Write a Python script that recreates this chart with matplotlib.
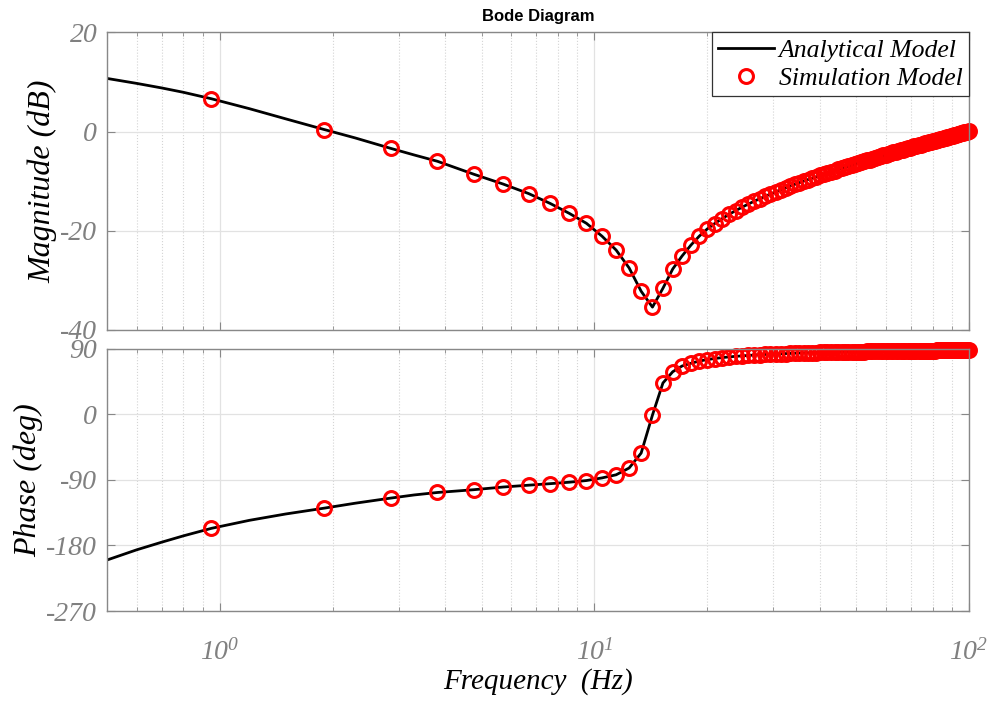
import matplotlib
matplotlib.use("Agg")
import matplotlib.pyplot as plt
from matplotlib.ticker import FixedLocator, LogLocator, NullFormatter

plt.rcParams['axes.unicode_minus'] = False
plt.rcParams['mathtext.fontset'] = 'custom'
plt.rcParams['mathtext.rm'] = 'Liberation Serif:italic'
plt.rcParams['mathtext.it'] = 'Liberation Serif:italic'
plt.rcParams['mathtext.default'] = 'rm'

# frequency sweep of the simulation (Hz)
freq_hz = [0.95, 1.90, 2.86, 3.81, 4.76, 5.71, 6.67, 7.62, 8.57, 9.52,
           10.48, 11.43, 12.38, 13.33, 14.29, 15.24, 16.19, 17.14, 18.10, 19.05,
           20.00, 20.95, 21.90, 22.86, 23.81, 24.76, 25.71, 26.67, 27.62, 28.57,
           29.52, 30.48, 31.43, 32.38, 33.33, 34.29, 35.24, 36.19, 37.14, 38.10,
           39.05, 40.00, 40.95, 41.90, 42.86, 43.81, 44.76, 45.71, 46.67, 47.62,
           48.57, 49.52, 50.48, 51.43, 52.38, 53.33, 54.29, 55.24, 56.19, 57.14,
           58.10, 59.05, 60.00, 60.95, 61.90, 62.86, 63.81, 64.76, 65.71, 66.67,
           67.62, 68.57, 69.52, 70.48, 71.43, 72.38, 73.33, 74.29, 75.24, 76.19,
           77.14, 78.10, 79.05, 80.00, 80.95, 81.90, 82.86, 83.81, 84.76, 85.71,
           86.67, 87.62, 88.57, 89.52, 90.48, 91.43, 92.38, 93.33, 94.29, 95.24,
           96.19, 97.14, 98.10, 99.05, 100.00]

mag_db = [6.60, 0.40, -3.40, -6.00, -8.60, -10.60, -12.50, -14.50, -16.50, -18.50,
          -21.10, -23.90, -27.50, -32.20, -35.40, -31.60, -27.70, -25.10, -22.90, -21.10,
          -19.66, -18.55, -17.58, -16.72, -15.96, -15.28, -14.65, -14.08, -13.55, -13.06,
          -12.60, -12.16, -11.75, -11.37, -11.00, -10.65, -10.32, -10.01, -9.70, -9.41,
          -9.13, -8.86, -8.60, -8.35, -8.11, -7.87, -7.64, -7.42, -7.21, -6.99,
          -6.79, -6.59, -6.39, -6.21, -6.02, -5.84, -5.66, -5.49, -5.32, -5.16,
          -4.99, -4.83, -4.68, -4.53, -4.38, -4.23, -4.08, -3.94, -3.80, -3.67,
          -3.53, -3.40, -3.27, -3.14, -3.01, -2.89, -2.77, -2.64, -2.53, -2.41,
          -2.29, -2.18, -2.07, -1.96, -1.85, -1.74, -1.63, -1.53, -1.42, -1.32,
          -1.22, -1.12, -1.02, -0.92, -0.83, -0.73, -0.64, -0.54, -0.45, -0.36,
          -0.27, -0.18, -0.09, 0.00, 0.08]

phase_deg = [-156.5, -128.8, -115.0, -107.3, -103.5, -99.8, -97.3, -95.2, -93.2, -90.9,
             -87.3, -83.0, -73.7, -53.2, -1.0, 43.0, 58.5, 66.3, 70.0, 73.1,
             75.1, 76.6, 77.8, 78.8, 79.6, 80.2, 80.8, 81.3, 81.8, 82.2,
             82.5, 82.8, 83.1, 83.4, 83.6, 83.9, 84.1, 84.2, 84.4, 84.6,
             84.8, 84.9, 85.0, 85.2, 85.3, 85.4, 85.5, 85.6, 85.7, 85.8,
             85.9, 86.0, 86.1, 86.2, 86.2, 86.3, 86.4, 86.5, 86.5, 86.6,
             86.6, 86.7, 86.8, 86.8, 86.9, 86.9, 87.0, 87.0, 87.1, 87.1,
             87.1, 87.2, 87.2, 87.3, 87.3, 87.3, 87.4, 87.4, 87.4, 87.5,
             87.5, 87.5, 87.6, 87.6, 87.6, 87.7, 87.7, 87.7, 87.7, 87.8,
             87.8, 87.8, 87.8, 87.9, 87.9, 87.9, 87.9, 88.0, 88.0, 88.0,
             88.0, 88.0, 88.1, 88.1, 88.1]

# extra analytical points where the simulation sweep is sparse
extra_freq = [0.5, 0.6, 0.7, 0.8, 1.2, 1.5, 2.3, 3.3]
extra_mag = [10.7, 9.70, 8.78, 7.90, 4.60, 2.55, -1.30, -4.72]
extra_phase = [-200.0, -186.0, -175.5, -166.8, -145.5, -136.8, -122.0, -110.7]

model = sorted(zip(extra_freq + freq_hz, extra_mag + mag_db, extra_phase + phase_deg))
model_freq = [m[0] for m in model]
model_mag = [m[1] for m in model]
model_phase = [m[2] for m in model]

serif = 'Liberation Serif'
tick_grey = '#808080'
spine_grey = '#888888'

fig = plt.figure(figsize=(10, 7.02), dpi=100)
ax1 = fig.add_axes([0.107, 0.530, 0.862, 0.424])
ax2 = fig.add_axes([0.107, 0.1296, 0.862, 0.3736], sharex=ax1)

for ax in (ax1, ax2):
    ax.set_xscale('log')
    ax.set_xlim(0.5, 100)
    ax.xaxis.set_major_locator(LogLocator(base=10, numticks=10))
    ax.xaxis.set_minor_locator(LogLocator(base=10, subs=range(2, 10), numticks=20))
    ax.xaxis.set_minor_formatter(NullFormatter())
    ax.grid(True, which='major', color='#e2e2e2', linewidth=0.9, linestyle='-')
    ax.grid(True, which='minor', axis='x', color='#d4d4d4', linewidth=0.8, linestyle=':')
    ax.set_axisbelow(True)
    ax.tick_params(which='both', direction='in', top=True, right=True,
                   colors=spine_grey, labelcolor=tick_grey, labelsize=20, pad=7)
    ax.tick_params(which='major', length=6)
    ax.tick_params(which='minor', length=3)
    for s in ax.spines.values():
        s.set_color(spine_grey)
        s.set_linewidth(1.0)

marker_style = dict(linestyle='none', marker='o', markersize=10, markerfacecolor='none',
                    markeredgecolor='red', markeredgewidth=2.2, clip_on=False)

ax1.plot(model_freq, model_mag, color='black', linewidth=2.0, label='Analytical Model')
ax1.plot(freq_hz, mag_db, label='Simulation Model', **marker_style)
ax1.set_ylim(-40, 20)
ax1.yaxis.set_major_locator(FixedLocator([-40, -20, 0, 20]))
ax1.set_yticklabels(['-40', '-20', '0', '20'], fontfamily=serif, fontstyle='italic')
ax1.tick_params(axis='x', labelbottom=False)
ax1.set_ylabel('Magnitude (dB)', fontfamily=serif, fontstyle='italic', fontsize=23, labelpad=2)
ax1.set_title('Bode Diagram', fontfamily='Liberation Sans', fontweight='bold', fontsize=12, pad=8)

leg = ax1.legend(loc='upper right', borderaxespad=0, fancybox=False, framealpha=1,
                 edgecolor='#333333', handlelength=2.15, handletextpad=0.2,
                 borderpad=0.25, labelspacing=0.2,
                 prop={'family': serif, 'style': 'italic', 'size': 18.5})
leg.get_frame().set_linewidth(0.9)

ax2.plot(model_freq, model_phase, color='black', linewidth=2.0)
ax2.plot(freq_hz, phase_deg, **marker_style)
ax2.set_ylim(-270, 90)
ax2.yaxis.set_major_locator(FixedLocator([-270, -180, -90, 0, 90]))
ax2.set_yticklabels(['-270', '-180', '-90', '0', '90'], fontfamily=serif, fontstyle='italic')
ax2.set_xticks([1, 10, 100])
ax2.set_xticklabels([r'$10^{0}$', r'$10^{1}$', r'$10^{2}$'])
ax2.tick_params(axis='x', which='major', pad=19)
ax2.set_ylabel('Phase (deg)', fontfamily=serif, fontstyle='italic', fontsize=23, labelpad=2)
ax2.set_xlabel('Frequency  (Hz)', fontfamily=serif, fontstyle='italic', fontsize=21, labelpad=2)

fig.savefig('out.png', dpi=100)
